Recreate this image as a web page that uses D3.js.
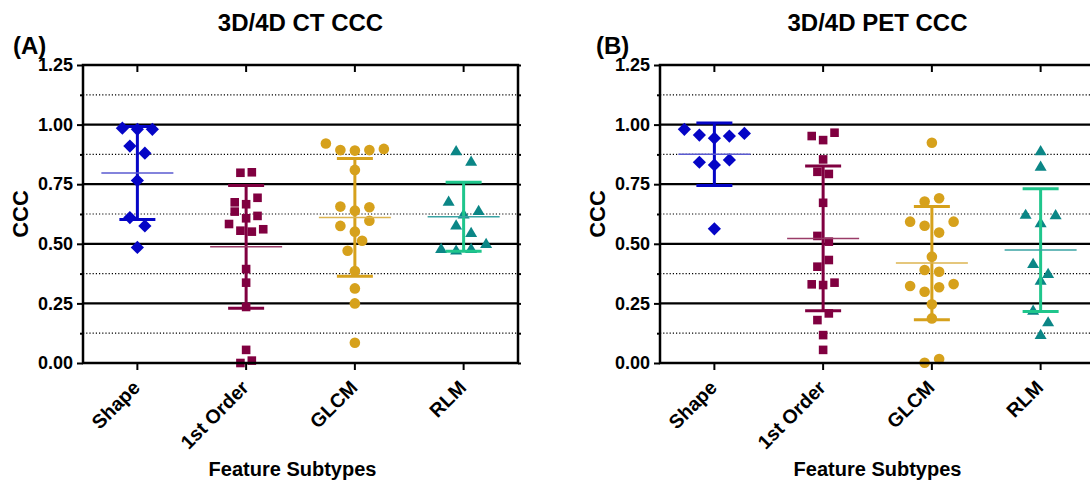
<!DOCTYPE html>
<html>
<head>
<meta charset="utf-8">
<script src="https://cdn.jsdelivr.net/npm/d3@7"></script>
<style>
body { margin: 0; background: #fff; }
svg text { font-family: "Liberation Sans", Arial, sans-serif; font-weight: bold; fill: #000; }
</style>
</head>
<body>
<div id="container"></div>
<script>
const CATEGORIES = ["Shape", "1st Order", "GLCM", "RLM"];
const Y_TICKS = [0, 0.25, 0.5, 0.75, 1.0, 1.25];
const Y_MINOR = [0.125, 0.375, 0.625, 0.875, 1.125];

// (A) 3D/4D CT CCC
const CT_SHAPE = [0.985, 0.98, 0.98, 0.91, 0.88, 0.765, 0.61, 0.575, 0.485];
const CT_FIRST = [0.798, 0.80, 0.674, 0.666, 0.693, 0.635, 0.607, 0.617, 0.583, 0.555, 0.551, 0.561, 0.394, 0.337, 0.235, 0.055, 0.0, 0.01];
const CT_GLCM = [0.921, 0.893, 0.891, 0.893, 0.898, 0.81, 0.656, 0.639, 0.653, 0.575, 0.551, 0.597, 0.471, 0.513, 0.386, 0.313, 0.25, 0.085];
const CT_RLM = [0.891, 0.847, 0.679, 0.625, 0.64, 0.579, 0.548, 0.481, 0.474, 0.481, 0.502];

// (B) 3D/4D PET CCC
const PET_SHAPE = [0.98, 0.956, 0.943, 0.952, 0.963, 0.842, 0.831, 0.852, 0.563];
const PET_FIRST = [0.952, 0.935, 0.966, 0.854, 0.802, 0.793, 0.672, 0.533, 0.509, 0.404, 0.432, 0.33, 0.327, 0.337, 0.18, 0.208, 0.117, 0.055];
const PET_GLCM = [0.924, 0.677, 0.691, 0.593, 0.576, 0.547, 0.593, 0.446, 0.39, 0.383, 0.323, 0.299, 0.318, 0.331, 0.246, 0.187, 0.001, 0.017];
const PET_RLM = [0.891, 0.826, 0.624, 0.589, 0.622, 0.418, 0.376, 0.348, 0.222, 0.12, 0.173];

var WIDTH = 1090, HEIGHT = 483;
var TOP = 65, BOTTOM = 363, PLOT_W = 435;

var STYLE = {
    "Shape":     { path: "M0,-6.6L6.6,0L0,6.6L-6.6,0Z", color: "#0505c6", bar: "#0505c6", mean: "#5a5ad0", step: 15, row: 10 },
    "1st Order": { path: "M-4.3,-4.3h8.6v8.6h-8.6Z", color: "#800040", bar: "#800040", mean: "#9a3c68", step: 11.4, row: 9 },
    "GLCM":      { path: "M-5.3,0a5.3,5.3 0 1,0 10.6,0a5.3,5.3 0 1,0 -10.6,0Z", color: "#d6a11c", bar: "#d6a11c", mean: "#dcb450", step: 14.5, row: 12 },
    "RLM":       { path: "M0,-5.6L6,4.6L-6,4.6Z", color: "#0b8686", bar: "#1fc68c", mean: "#3aa3a3", step: 15, row: 14 }
};

var svg = d3.select("#container").append("svg")
    .attr("width", WIDTH)
    .attr("height", HEIGHT);

var spread = function( vals, y, st )
{
    var idx = vals.map(function(v, i){ return i; })
	.sort(function(a, b){ return vals[b] - vals[a] || a - b; });
    var off = new Array(vals.length);
    var row = [];

    var flush = function(){
	row.sort(function(a, b){ return a - b; });
	row.forEach(function(k, j){
	    off[k] = (j - (row.length - 1) / 2) * st.step;
	});
	row = [];
    };

    idx.forEach(function(i){
	if ( row.length && y(vals[i]) - y(vals[row[0]]) >= st.row )
	    flush();
	row.push(i);
    });
    flush();
    return off;
};

var draw_panel = function( p )
{
    var left = p.left, right = p.left + PLOT_W;
    var x = d3.scaleBand().domain(CATEGORIES).range([left, right]);
    var y = d3.scaleLinear().domain([0, 1.25]).range([BOTTOM, TOP]);
    var cx = function(c){ return x(c) + x.bandwidth() / 2; };

    var g = svg.append("g");

    // grid lines
    g.selectAll("line.minor-grid")
	.data(Y_MINOR)
	.enter()
	.append("line")
	.attr("x1", left).attr("x2", right)
	.attr("y1", y).attr("y2", y)
	.attr("stroke", "#000")
	.attr("stroke-width", 1.2)
	.attr("stroke-dasharray", "1.2,2");

    g.selectAll("line.major-grid")
	.data(Y_TICKS.slice(1, -1))
	.enter()
	.append("line")
	.attr("x1", left).attr("x2", right)
	.attr("y1", y).attr("y2", y)
	.attr("stroke", "#000")
	.attr("stroke-width", 2.2);

    // points
    CATEGORIES.forEach(function(c, ci){
	var vals = p.series[ci];
	var st = STYLE[c];
	var off = spread(vals, y, st);

	g.append("g").selectAll("path")
	    .data(vals)
	    .enter()
	    .append("path")
	    .attr("d", st.path)
	    .attr("fill", st.color)
	    .attr("transform", function(d, i){
		return "translate(" + (cx(c) + off[i]) + "," + y(d) + ")";
	    });
    });

    // mean +/- SD
    CATEGORIES.forEach(function(c, ci){
	var vals = p.series[ci];
	var st = STYLE[c];
	var m = d3.mean(vals), sd = d3.deviation(vals);
	var xc = cx(c);
	var bg = g.append("g").attr("stroke", st.bar).attr("stroke-width", 3);

	bg.append("line")
	    .attr("x1", xc).attr("x2", xc)
	    .attr("y1", y(m + sd)).attr("y2", y(m - sd));
	[m + sd, m - sd].forEach(function(v){
	    bg.append("line")
		.attr("x1", xc - 18).attr("x2", xc + 18)
		.attr("y1", y(v)).attr("y2", y(v));
	});
	g.append("line")
	    .attr("x1", xc - 36).attr("x2", xc + 36)
	    .attr("y1", y(m)).attr("y2", y(m))
	    .attr("stroke", st.mean)
	    .attr("stroke-width", 1.5);
    });

    // axes
    var ax = svg.append("g");

    var yl = ax.append("g")
	.attr("transform", "translate(" + left + ",0)")
	.call(d3.axisLeft(y).tickValues(Y_TICKS).tickFormat(d3.format(".2f")).tickSize(6).tickPadding(4));
    yl.selectAll("text").style("font-size", "18px");

    ax.append("g")
	.attr("transform", "translate(" + left + ",0)")
	.call(d3.axisLeft(y).tickValues(Y_MINOR).tickFormat("").tickSize(3));

    ax.append("g")
	.attr("transform", "translate(" + right + ",0)")
	.call(d3.axisRight(y).tickValues(Y_TICKS.concat(Y_MINOR)).tickFormat("").tickSize(3));

    ax.append("g")
	.attr("transform", "translate(0," + TOP + ")")
	.call(d3.axisBottom(x).tickFormat("").tickSize(7));

    var xb = ax.append("g")
	.attr("transform", "translate(0," + BOTTOM + ")")
	.call(d3.axisBottom(x).tickSize(7));

    xb.selectAll("text")
	.style("font-size", "19.5px")
	.attr("text-anchor", "end")
	.attr("dy", "0.35em")
	.attr("y", 0)
	.attr("transform", "translate(-1,21) rotate(-45)");

    ax.selectAll(".domain").remove();
    ax.selectAll(".tick line").attr("stroke", "#000").attr("stroke-width", 2);

    ax.append("rect")
	.attr("x", left).attr("y", TOP)
	.attr("width", PLOT_W).attr("height", BOTTOM - TOP)
	.attr("fill", "none")
	.attr("stroke", "#000")
	.attr("stroke-width", 2.5);

    // labels
    svg.append("text")
	.attr("x", (left + right) / 2).attr("y", 31)
	.attr("text-anchor", "middle")
	.style("font-size", "24px")
	.text(p.title);

    svg.append("text")
	.attr("x", p.letterX).attr("y", 54)
	.style("font-size", "24px")
	.text(p.letter);

    svg.append("text")
	.attr("transform", "translate(" + (left - 55) + "," + ((TOP + BOTTOM) / 2) + ") rotate(-90)")
	.attr("text-anchor", "middle")
	.style("font-size", "22px")
	.text("CCC");

    svg.append("text")
	.attr("x", (left + right) / 2 + p.labelShift).attr("y", 476)
	.attr("text-anchor", "middle")
	.style("font-size", "20px")
	.text("Feature Subtypes");
};

draw_panel({ left: 83, title: "3D/4D CT CCC", letter: "(A)", letterX: 13, labelShift: -8,
	     series: [CT_SHAPE, CT_FIRST, CT_GLCM, CT_RLM] });
draw_panel({ left: 660, title: "3D/4D PET CCC", letter: "(B)", letterX: 596, labelShift: 0,
	     series: [PET_SHAPE, PET_FIRST, PET_GLCM, PET_RLM] });
</script>
</body>
</html>
